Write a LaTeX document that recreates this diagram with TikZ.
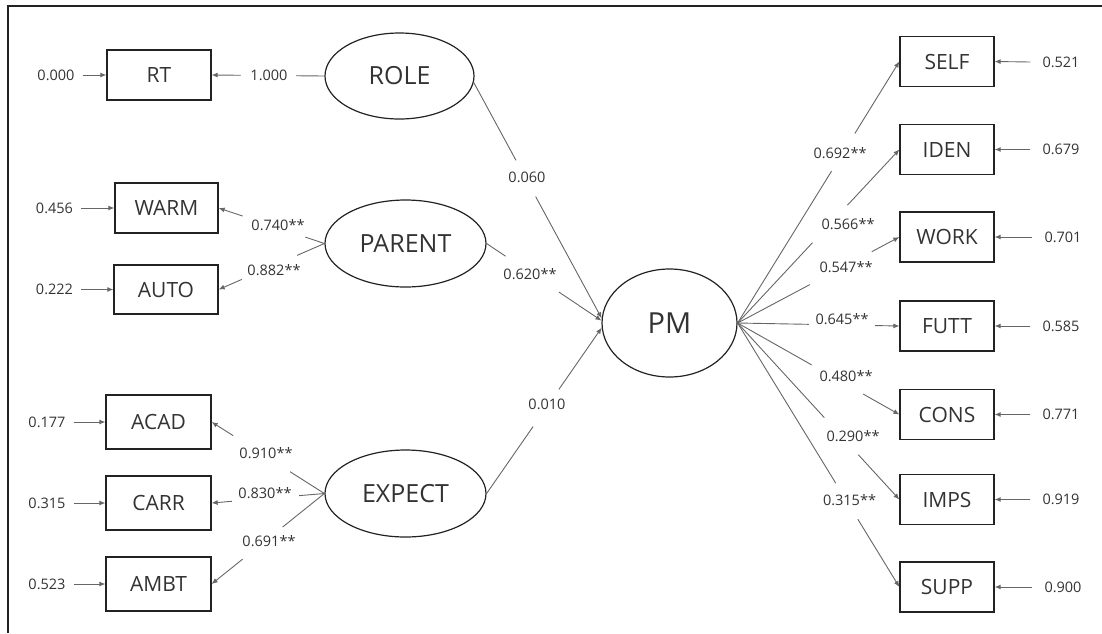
\documentclass[tikz,border=0pt]{standalone}
\usepackage{fontspec}
\setmainfont{Open Sans}
\usetikzlibrary{shapes.geometric,arrows.meta}
\definecolor{ln}{HTML}{666666}
\definecolor{bx}{HTML}{222222}
\definecolor{tx}{HTML}{333333}
\begin{document}
\begin{tikzpicture}[x=1pt,y=-1pt,
 obs/.style={draw=bx, line width=1.3pt, rectangle, inner sep=0, minimum height=50pt, minimum width=104pt, text=tx, font=\fontsize{21}{21}\selectfont},
 obsR/.style={obs, minimum width=94pt},
 lat/.style={draw=bx, line width=1.2pt, ellipse, inner sep=0, minimum height=87pt, minimum width=161pt, text=tx, font=\fontsize{25}{25}\selectfont},
 lbl/.style={text=tx, inner sep=0, font=\fontsize{14.5}{14.5}\selectfont},
 errL/.style={lbl, inner xsep=8pt},
 errR/.style={lbl, inner xsep=12pt},
 con/.style={draw=ln, line width=0.9pt, -{Latex[length=6pt,width=5pt]}},
 gapn/.style={fill=white, inner sep=0, minimum height=4pt, sloped}]
\useasboundingbox (0,0) rectangle (1102,633);
% frame
\draw[line width=2pt, bx] (8,633) -- (8,6) -- (1102,6);

% observed, left
\node[obs] (RT) at (159,75) {RT};
\node[obs, minimum width=103pt] (WARM) at (166.5,208) {WARM};
\node[obs, minimum height=49pt] (AUTO) at (166,289.5) {AUTO};
\node[obs, minimum width=105pt, minimum height=54pt] (ACAD) at (158.5,422) {ACAD};
\node[obs, minimum width=105pt, minimum height=54pt] (CARR) at (158.5,503) {CARR};
\node[obs, minimum width=105pt, minimum height=54pt] (AMBT) at (158.5,584) {AMBT};

% latent
\node[lat, minimum width=149pt, minimum height=86pt] (ROLE) at (399.5,76) {ROLE};
\node[lat] (PARENT) at (405.5,243.5) {PARENT};
\node[lat] (EXPECT) at (405.5,493.5) {EXPECT};
\node[lat, minimum width=135pt, minimum height=108pt, font=\fontsize{29}{29}\selectfont] (PM) at (669.5,323) {PM};

% observed, right
\node[obsR] (SELF) at (947,61.5) {SELF};
\node[obsR] (IDEN) at (947,149.5) {IDEN};
\node[obsR] (WORK) at (947,237) {WORK};
\node[obsR] (FUTT) at (947,326) {FUTT};
\node[obsR] (CONS) at (947,414.5) {CONS};
\node[obsR] (IMPS) at (947,499.5) {IMPS};
\node[obsR] (SUPP) at (947,587) {SUPP};

% error terms, left
\node[errL] (e1) at (56,75) {0.000};
\node[errL] (e2) at (54.5,208) {0.456};
\node[errL] (e3) at (54.5,289.5) {0.222};
\node[errL] (e4) at (47,422) {0.177};
\node[errL] (e5) at (47,503) {0.315};
\node[errL] (e6) at (47,584) {0.523};
% error terms, right
\node[errR] (r1) at (1061,62) {0.521};
\node[errR] (r2) at (1061,149.5) {0.679};
\node[errR] (r3) at (1063,237) {0.701};
\node[errR] (r4) at (1061,326) {0.585};
\node[errR] (r5) at (1061,414.5) {0.771};
\node[errR] (r6) at (1061,499.5) {0.919};
\node[errR] (r7) at (1063,587) {0.900};

\draw[con] (e1.east) -- (RT.west);
\draw[con] (e2.east) -- (WARM.west);
\draw[con] (e3.east) -- (AUTO.west);
\draw[con] (e4.east) -- (ACAD.west);
\draw[con] (e5.east) -- (CARR.west);
\draw[con] (e6.east) -- (AMBT.west);
\draw[con] (r1.west) -- (SELF.east);
\draw[con] (r2.west) -- (IDEN.east);
\draw[con] (r3.west) -- (WORK.east);
\draw[con] (r4.west) -- (FUTT.east);
\draw[con] (r5.west) -- (CONS.east);
\draw[con] (r6.west) -- (IMPS.east);
\draw[con] (r7.west) -- (SUPP.east);

% loadings, left
\draw[con] (ROLE.west) -- node[gapn, pos=0.496, minimum width=55pt]{} (RT.east);
\draw[con] (PARENT.west) -- node[gapn, pos=0.477, minimum width=66pt]{} (WARM.east);
\draw[con] (PARENT.west) -- node[gapn, pos=0.519, minimum width=60pt]{} (AUTO.east);
\draw[con] (EXPECT.west) -- node[gapn, pos=0.557, minimum width=67pt]{} (ACAD.east);
\draw[con] (EXPECT.west) -- node[gapn, pos=0.522, minimum width=67pt]{} (CARR.east);
\draw[con] (EXPECT.west) -- node[gapn, pos=0.548, minimum width=51pt]{} (AMBT.east);

% structural paths
\draw[con] (ROLE.-5) -- node[gapn, pos=0.407, minimum width=41pt]{} (PM.176);
\draw[con] (PARENT.east) -- node[gapn, pos=0.397, minimum width=64pt]{} (PM.178);
\draw[con] (EXPECT.east) -- node[gapn, pos=0.516, minimum width=45pt]{} (PM.184);

% loadings, right
\draw[con] (PM.east) -- node[gapn, pos=0.653, minimum width=44pt]{} (SELF.west);
\draw[con] (PM.east) -- node[gapn, pos=0.571, minimum width=51pt]{} (IDEN.west);
\draw[con] (PM.east) -- node[gapn, pos=0.638, minimum width=70pt]{} (WORK.west);
\draw[con] (PM.east) -- node[gapn, pos=0.644, minimum width=66pt]{} (FUTT.west);
\draw[con] (PM.east) -- node[gapn, pos=0.617, minimum width=59pt]{} (CONS.west);
\draw[con] (PM.east) -- node[gapn, pos=0.641, minimum width=50pt]{} (IMPS.west);
\draw[con] (PM.east) -- node[gapn, pos=0.675, minimum width=42pt]{} (SUPP.west);

% path labels
\node[lbl] (l1) at (269,75) {1.000};
\node[lbl] (l2) at (278,225) {0.740**};
\node[lbl] (l3) at (274,270) {0.882**};
\node[lbl] (l4) at (266,453) {0.910**};
\node[lbl] (l5) at (265,493) {0.830**};
\node[lbl] (l6) at (269,541) {0.691**};
\node[lbl] (l7) at (527,177) {0.060};
\node[lbl] (l8) at (530,274) {0.620**};
\node[lbl] (l9) at (547,404) {0.010};
\node[lbl] (l10) at (840,153) {0.692**};
\node[lbl] (l11) at (848,224) {0.566**};
\node[lbl] (l12) at (846,267) {0.547**};
\node[lbl] (l13) at (842,319) {0.645**};
\node[lbl] (l14) at (846,376) {0.480**};
\node[lbl] (l15) at (853,436) {0.290**};
\node[lbl] (l16) at (849.5,500) {0.315**};
\end{tikzpicture}
\end{document}
